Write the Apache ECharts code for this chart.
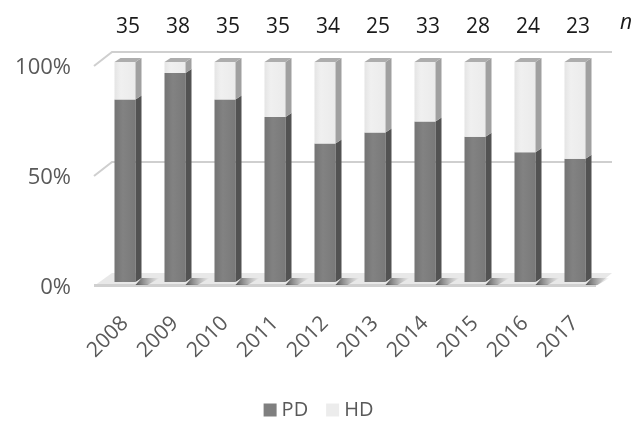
<!DOCTYPE html>
<html>
<head>
<meta charset="utf-8">
<script src="https://cdn.jsdelivr.net/npm/echarts@6/dist/echarts.min.js"></script>
<style>html,body{margin:0;padding:0;background:#fff;}#c{width:637px;height:421px;}</style>
</head>
<body>
<div id="c"></div>
<script>
var years = ['2008','2009','2010','2011','2012','2013','2014','2015','2016','2017'];
var nValues = ['35','38','35','35','34','25','33','28','24','23'];
var pdPercent = [83, 95, 83, 75, 63, 68, 73, 66, 59, 56];
var hdPercent = [17, 5, 17, 25, 37, 32, 27, 34, 41, 44];
var yTicks = [0, 50, 100];

var FONT = '"Open Sans", "DejaVu Sans", sans-serif';
var FRONT_W = 21, DX = 6, DY = 4;

var chart = echarts.init(document.getElementById('c'), null, {renderer: 'canvas'});

function pdItem(params, api) {
  var i = api.value(0), v = api.value(1);
  var base = api.coord([i, 0]);
  var top = api.coord([i, v]);
  var x = base[0] - FRONT_W / 2, y0 = base[1], y1 = top[1];
  return {
    type: 'group',
    children: [
      {type: 'polygon', shape: {points: [[x + FRONT_W, y0 + 3], [x + FRONT_W + DX, y0 - DY], [x + FRONT_W + DX + 18, y0 - DY], [x + FRONT_W + 12, y0 + 3]]},
        style: {fill: new echarts.graphic.LinearGradient(0, 0, 1, 0, [{offset: 0, color: 'rgba(60,60,60,0.85)'}, {offset: 1, color: 'rgba(120,120,120,0)'}])}},
      {type: 'rect', shape: {x: x, y: y1, width: FRONT_W, height: y0 - y1},
        style: {fill: new echarts.graphic.LinearGradient(0, 0, 1, 0, [{offset: 0, color: '#747474'}, {offset: 0.4, color: '#828282'}, {offset: 1, color: '#797979'}])}},
      {type: 'polygon', shape: {points: [[x + FRONT_W, y0], [x + FRONT_W, y1], [x + FRONT_W + DX, y1 - DY], [x + FRONT_W + DX, y0 - DY]]},
        style: {fill: '#525252'}}
    ]
  };
}

function hdItem(params, api) {
  var i = api.value(0), lo = api.value(1), hi = api.value(2);
  var a = api.coord([i, lo]);
  var b = api.coord([i, hi]);
  var x = a[0] - FRONT_W / 2, y0 = a[1], y1 = b[1];
  return {
    type: 'group',
    children: [
      {type: 'rect', shape: {x: x, y: y1, width: FRONT_W, height: y0 - y1},
        style: {fill: new echarts.graphic.LinearGradient(0, 0, 1, 0, [{offset: 0, color: '#e4e4e4'}, {offset: 0.3, color: '#f0f0f0'}, {offset: 1, color: '#ebebeb'}])}},
      {type: 'polygon', shape: {points: [[x + FRONT_W, y0], [x + FRONT_W, y1], [x + FRONT_W + DX, y1 - DY], [x + FRONT_W + DX, y0 - DY]]},
        style: {fill: '#a0a0a0'}},
      {type: 'polygon', shape: {points: [[x, y1], [x + DX, y1 - DY], [x + FRONT_W + DX, y1 - DY], [x + FRONT_W, y1]]},
        style: {fill: '#adadad'}}
    ]
  };
}

function wallItem(params, api) {
  var v = api.value(0);
  var cs = params.coordSys;
  var y = api.coord([0, v])[1];
  var left = cs.x - 6, right = cs.x + cs.width + 12;
  if (v === 0) {
    return {
      type: 'group',
      children: [
        {type: 'polygon', shape: {points: [[left, y + 4], [left + 18, y - 9], [right, y - 9], [right - 16, y + 4]]},
          style: {fill: '#e8e8e8'}},
        {type: 'rect', shape: {x: left, y: y + 2, width: right - 16 - left, height: 3}, style: {fill: '#d0d0d0'}}
      ]
    };
  }
  return {
    type: 'polyline',
    shape: {points: [[left, y + 4], [left + 18, y - 10], [right, y - 10]]},
    style: {stroke: '#cfcfcf', lineWidth: 2, fill: null}
  };
}

var pdData = years.map(function (y, i) { return [i, pdPercent[i]]; });
var hdData = years.map(function (y, i) { return [i, pdPercent[i], pdPercent[i] + hdPercent[i]]; });

chart.setOption({
  animation: false,
  backgroundColor: '#ffffff',
  grid: {left: 100, right: 37, top: 62, bottom: 139},
  xAxis: [
    {type: 'category', data: years, position: 'bottom',
      axisLine: {show: false}, axisTick: {show: false},
      axisLabel: {rotate: 45, fontSize: 21, color: '#595959', fontFamily: FONT, margin: 38, interval: 0}},
    {type: 'category', data: nValues, position: 'top',
      axisLine: {show: false}, axisTick: {show: false},
      axisLabel: {fontSize: 21, color: '#1a1a1a', fontFamily: FONT, margin: 24, interval: 0, padding: [0, 0, 0, 6]}}
  ],
  yAxis: {type: 'value', min: yTicks[0], max: yTicks[yTicks.length - 1], interval: 50,
    axisLine: {show: false}, axisTick: {show: false}, splitLine: {show: false},
    axisLabel: {formatter: '{value}%', fontSize: 22, color: '#595959', fontFamily: FONT, margin: 29,
      verticalAlign: 'top', lineHeight: 12}},
  legend: {
    bottom: -4, left: 'center', itemWidth: 13, itemHeight: 13, itemGap: 18,
    textStyle: {fontSize: 20, color: '#595959', fontFamily: FONT},
    data: [
      {name: 'PD', icon: 'rect', itemStyle: {color: '#7f7f7f'}},
      {name: 'HD', icon: 'rect', itemStyle: {color: '#ececec'}}
    ]
  },
  graphic: [
    {type: 'text', left: 620, top: 13, style: {text: 'n', fontSize: 21, fontStyle: 'italic', fill: '#1a1a1a', fontFamily: FONT}}
  ],
  series: [
    {type: 'custom', name: 'wall', renderItem: wallItem, data: yTicks.map(function (t) { return [t]; }),
      encode: {y: 0}, silent: true, z: 1},
    {type: 'custom', name: 'PD', renderItem: pdItem, data: pdData, encode: {x: 0, y: 1}, itemStyle: {color: '#7f7f7f'}, z: 2},
    {type: 'custom', name: 'HD', renderItem: hdItem, data: hdData, encode: {x: 0, y: [1, 2]}, itemStyle: {color: '#ececec'}, z: 3}
  ]
});
</script>
</body>
</html>
